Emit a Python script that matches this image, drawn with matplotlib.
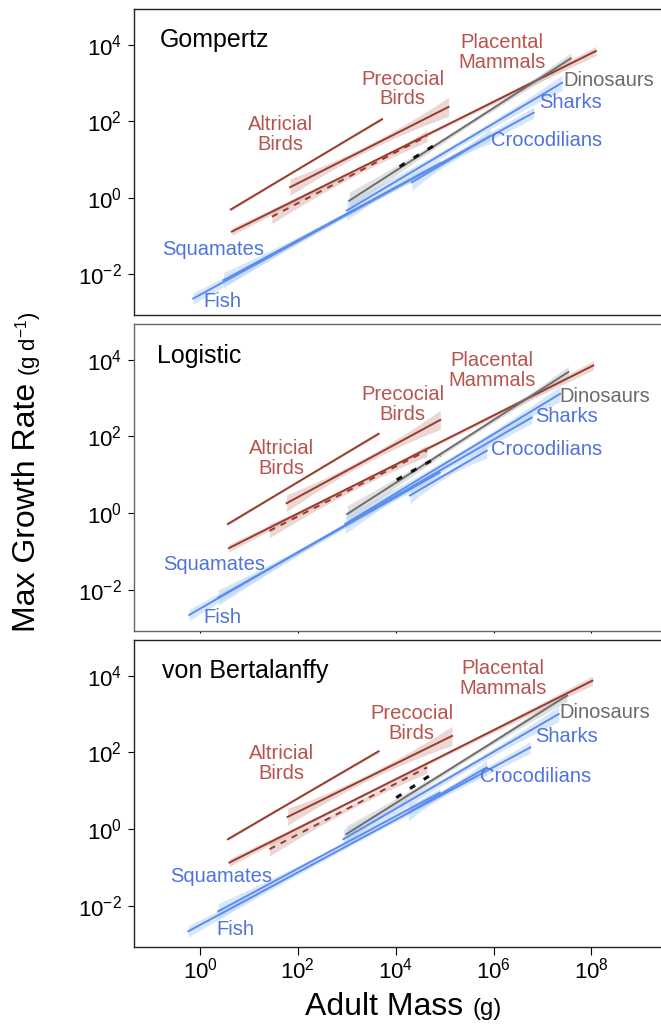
import numpy as np
import matplotlib
matplotlib.use("Agg")
import matplotlib.pyplot as plt

plt.rcParams["font.family"] = ["Liberation Sans", "DejaVu Sans"]
plt.rcParams["mathtext.fontset"] = "custom"
plt.rcParams["mathtext.rm"] = "Liberation Sans"
plt.rcParams["mathtext.it"] = "Liberation Sans:italic"
plt.rcParams["mathtext.sf"] = "Liberation Sans"

models = ["Gompertz", "Logistic", "von Bertalanffy"]

# fitted allometric lines, log10 units, one row per model
groups = ["Altricial", "Precocial", "Placental", "RedDashed", "Dinosaurs",
          "BlackDashed", "Fish", "Squamates", "Sharks", "Crocodilians"]
group_kind = ["red", "red", "red", "red_dash", "grey",
              "black_dash", "blue", "blue", "blue", "blue"]

log_mass_min = [
    [0.63, 1.84, 0.65, 1.47, 3.05, 4.08, -0.14, 0.48, 3.00, 4.33],
    [0.57, 1.77, 0.59, 1.42, 3.01, 4.02, -0.22, 0.37, 2.97, 4.29],
    [0.57, 1.79, 0.60, 1.42, 2.99, 4.01, -0.24, 0.37, 2.93, 4.26],
]
log_mass_max = [
    [3.72, 5.08, 8.09, 4.64, 7.58, 4.91, 6.82, 4.90, 7.40, 5.93],
    [3.65, 4.91, 8.04, 4.64, 7.53, 4.91, 6.78, 4.90, 7.36, 5.86],
    [3.65, 5.15, 8.02, 4.64, 7.50, 4.84, 6.75, 4.90, 7.33, 5.86],
]
log_rate_at_min = [
    [-0.31, 0.27, -0.89, -0.50, -0.08, 0.81, -2.64, -2.16, -0.34, 0.40],
    [-0.28, 0.26, -0.91, -0.46, -0.02, 0.87, -2.65, -2.20, -0.28, 0.46],
    [-0.26, 0.32, -0.87, -0.52, -0.13, 0.82, -2.66, -2.14, -0.26, 0.43],
]
log_rate_at_max = [
    [2.05, 2.37, 3.83, 1.61, 3.64, 1.46, 2.22, 0.89, 3.00, 1.61],
    [2.07, 2.43, 3.85, 1.63, 3.68, 1.50, 2.49, 1.06, 3.11, 1.63],
    [2.03, 2.43, 3.87, 1.61, 3.48, 1.52, 2.13, 0.95, 3.00, 1.61],
]
# confidence band half-width (decades) at start, middle, end
ci_start = [0.04, 0.22, 0.10, 0.18, 0.22, 0.0, 0.15, 0.20, 0.25, 0.22]
ci_mid = [0.02, 0.08, 0.04, 0.06, 0.06, 0.0, 0.05, 0.06, 0.08, 0.08]
ci_end = [0.04, 0.25, 0.12, 0.15, 0.15, 0.0, 0.15, 0.12, 0.20, 0.20]

# label text and positions (log10 mass, log10 rate)
label_text = ["Altricial\nBirds", "Precocial\nBirds", "Placental\nMammals",
              "Dinosaurs", "Sharks", "Crocodilians", "Squamates", "Fish"]
label_kind = ["red", "red", "red", "grey", "blue", "blue", "blue", "blue"]
label_ha = ["center", "center", "center", "left", "left", "left", "left", "left"]
label_x = [
    [1.65, 4.14, 6.18, 7.42, 6.94, 5.95, -0.78, 0.06],
    [1.66, 4.14, 5.97, 7.34, 6.85, 5.95, -0.75, 0.06],
    [1.66, 4.33, 6.19, 7.34, 6.85, 5.73, -0.61, 0.34],
]
label_y = [
    [1.64, 2.84, 3.80, 3.06, 2.48, 1.50, -1.36, -2.73],
    [1.42, 2.83, 3.71, 3.04, 2.52, 1.65, -1.35, -2.72],
    [1.71, 2.76, 3.93, 3.04, 2.41, 1.36, -1.22, -2.61],
]
title_x = [-0.82, -0.87, -0.78]
title_y = [4.11, 4.09, 4.13]

line_color = {"red": "#9a3a2c", "red_dash": "#9a3a2c", "grey": "#6e6e6e",
              "black_dash": "#111111", "blue": "#5b8dee"}
band_color = {"red": "#d9b5ad", "red_dash": "#d9b5ad", "grey": "#c8c8c8",
              "black_dash": "#ffffff", "blue": "#b9d2f7"}
text_color = {"red": "#b8534e", "grey": "#6b6b6b", "blue": "#4f72de"}

fig = plt.figure(figsize=(6.61, 10.26), dpi=100)
W, H = 661.0, 1026.0
panel_px = [(9, 315), (324, 631), (640, 947)]
left_px, right_px = 134, 700
spine_col = ["#222222", "#666666", "#222222"]

axes = []
for i, (top, bot) in enumerate(panel_px):
    ax = fig.add_axes([left_px / W, 1 - bot / H, (right_px - left_px) / W, (bot - top) / H])
    ax.set_xscale("log")
    ax.set_yscale("log")
    ax.set_xlim(10 ** -1.35, 10 ** 10.22)
    ax.set_ylim(10 ** -3.07, 10 ** 4.93)
    ax.set_yticks([1e-2, 1e0, 1e2, 1e4])
    ax.set_xticks([1e0, 1e2, 1e4, 1e6, 1e8])
    ax.minorticks_off()
    for s in ax.spines.values():
        s.set_color(spine_col[i])
        s.set_linewidth(1.0)
    ax.tick_params(axis="y", length=4.5, width=0.8, labelsize=16, pad=4)
    if i == 2:
        ax.tick_params(axis="x", length=5.5, width=0.8, labelsize=16, pad=2)
    elif i == 1:
        ax.tick_params(axis="x", length=1.5, width=0.8, labelbottom=False)
    else:
        ax.tick_params(axis="x", length=0, labelbottom=False)

    for g in range(len(groups)):
        kind = group_kind[g]
        x0, x1 = log_mass_min[i][g], log_mass_max[i][g]
        y0, y1 = log_rate_at_min[i][g], log_rate_at_max[i][g]
        xs = np.linspace(x0, x1, 60)
        ys = y0 + (y1 - y0) * (xs - x0) / (x1 - x0)
        if ci_end[g] > 0:
            coef = np.polyfit([x0, (x0 + x1) / 2, x1], [ci_start[g], ci_mid[g], ci_end[g]], 2)
            hw = np.polyval(coef, xs)
            ax.fill_between(10 ** xs, 10 ** (ys - hw), 10 ** (ys + hw),
                            color=band_color[kind], alpha=0.55, lw=0, zorder=1)
        if kind == "red_dash":
            ax.plot(10 ** xs, 10 ** ys, color=line_color[kind], lw=1.4,
                    dashes=(3.2, 3.2), zorder=3)
        elif kind == "black_dash":
            ax.plot(10 ** xs, 10 ** ys, color=line_color[kind], lw=2.2,
                    dashes=(2.0, 3.4), zorder=4)
        else:
            ax.plot(10 ** xs, 10 ** ys, color=line_color[kind], lw=1.4, zorder=3)

    ax.text(10 ** title_x[i], 10 ** title_y[i], models[i], fontsize=18,
            ha="left", va="center", color="black")
    for k in range(len(label_text)):
        ax.text(10 ** label_x[i][k], 10 ** label_y[i][k], label_text[k],
                fontsize=14.5, ha=label_ha[k], va="center", multialignment="center",
                linespacing=1.05, color=text_color[label_kind[k]], clip_on=False)
    axes.append(ax)

fig.text(305 / W, 1 - 1015 / H, "Adult Mass", fontsize=23, ha="left", va="baseline")
fig.text(472 / W, 1 - 1015 / H, "(g)", fontsize=17, ha="left", va="baseline")

fig.text(35 / W, 1 - 632 / H, "Max Growth Rate", fontsize=23, rotation=90,
         ha="left", va="baseline", rotation_mode="anchor")
fig.text(35 / W, 1 - 376 / H, r"(g d$^{\mathregular{-1}}$)", fontsize=16, rotation=90,
         ha="left", va="baseline", rotation_mode="anchor")

fig.savefig("out.png", dpi=100)
